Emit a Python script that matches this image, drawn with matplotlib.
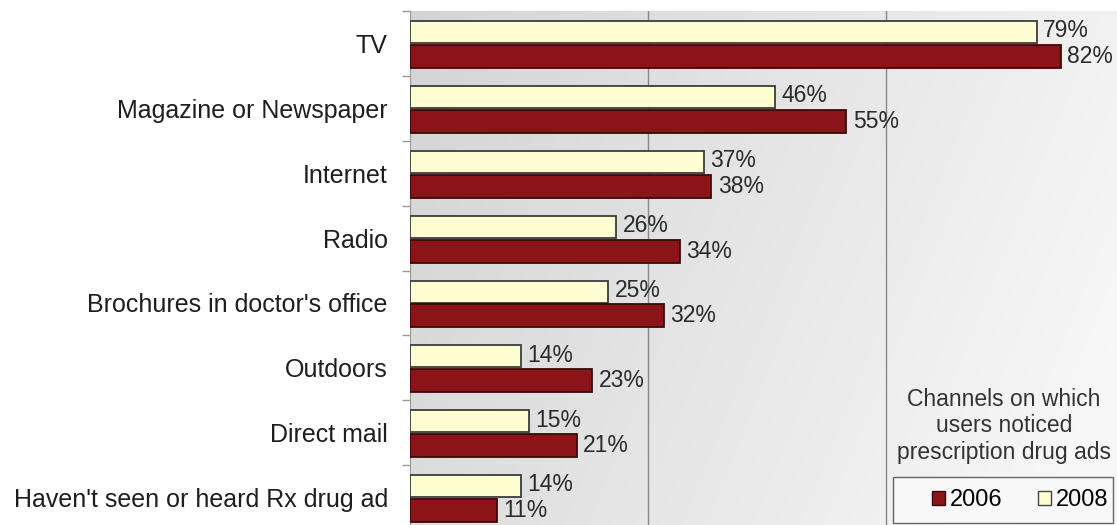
import matplotlib
matplotlib.use("Agg")
import matplotlib.pyplot as plt
import numpy as np
from matplotlib.patches import Patch, Rectangle
from matplotlib.transforms import offset_copy

categories = ["TV", "Magazine or Newspaper", "Internet", "Radio",
              "Brochures in doctor's office", "Outdoors", "Direct mail",
              "Haven't seen or heard Rx drug ad"]
vals_2008 = [79, 46, 37, 26, 25, 14, 15, 14]
vals_2006 = [82, 55, 38, 34, 32, 23, 21, 11]

plt.rcParams['font.family'] = ['Liberation Sans', 'DejaVu Sans']

W, H = 1117, 525
fig = plt.figure(figsize=(W / 100, H / 100), dpi=100)
ax_left, ax_top, ax_bottom, ax_right = 410, 11, 530, 1128
ax = fig.add_axes([ax_left / W, 1 - ax_bottom / H,
                   (ax_right - ax_left) / W, (ax_bottom - ax_top) / H])

n = len(categories)
y = np.arange(n)
h8, h6 = 0.34, 0.355
off8, off6 = -0.175, 0.20

# gradient background
gx = np.linspace(0, 1, 300)
gy = np.linspace(0, 1, 300)
X, Y = np.meshgrid(gx, gy)
G = 0.83 + 0.14 * np.clip(0.85 * X + 0.25 * Y, 0, 1)
ax.imshow(np.dstack([G, G, G]), extent=[0, 1, 0, 1],
          transform=ax.transAxes, aspect='auto', zorder=0, origin='upper')

ax.barh(y + off8, vals_2008, height=h8, color='#FFFFD2',
        edgecolor='#3c3c3c', linewidth=1.3, zorder=3, label='2008')
ax.barh(y + off6, vals_2006, height=h6, color='#8B1419',
        edgecolor='#3a0a0a', linewidth=1.3, zorder=3, label='2006')

tr = offset_copy(ax.transData, fig=fig, x=4.5, y=0, units='points')
for i in range(n):
    ax.text(vals_2008[i], y[i] + off8 - 0.02, f"{vals_2008[i]}%", transform=tr,
            va='center', ha='left', fontsize=16.5, color='#2a2a2a', zorder=4)
    ax.text(vals_2006[i], y[i] + off6, f"{vals_2006[i]}%", transform=tr,
            va='center', ha='left', fontsize=16.5, color='#2a2a2a', zorder=4)

ax.set_xlim(0, 90.5)
ax.set_ylim(n - 0.5, -0.5)
ax.set_xticks([30, 60])
ax.xaxis.grid(True, color='#888888', linewidth=1, zorder=1)
ax.tick_params(axis='x', length=0, labelbottom=False)
ax.set_yticks(y)
ax.set_yticklabels(categories, fontsize=18, color='#1e1e1e')
ax.set_yticks(np.arange(n + 1) - 0.5, minor=True)
ax.tick_params(axis='y', which='major', length=0, pad=16)
ax.tick_params(axis='y', which='minor', length=6, color='#999999', width=1)
for s in ['top', 'right', 'bottom']:
    ax.spines[s].set_visible(False)
ax.spines['left'].set_color('#999999')

fig.text(1004 / W, 1 - 426 / H,
         "Channels on which\nusers noticed\nprescription drug ads",
         ha='center', va='center', fontsize=16.5, color='#333333',
         linespacing=1.17)

# legend frame drawn separately (asymmetric padding as in the reference)
fig.patches.append(Rectangle((893 / W, 1 - 523 / H), 220 / W, 46 / H,
                             transform=fig.transFigure, facecolor='#F8F8F8',
                             edgecolor='#666666', linewidth=1.0, zorder=5))

handles = [Patch(facecolor='#8B1419', edgecolor='#3a0a0a', label='2006'),
           Patch(facecolor='#FFFFD2', edgecolor='#444444', label='2008')]
leg = fig.legend(handles=handles, loc='center', ncol=2,
                 bbox_to_anchor=(1020 / W, 1 - 500 / H),
                 fontsize=17, frameon=False,
                 handlelength=0.55, handleheight=0.55, handletextpad=0.2,
                 columnspacing=1.5, borderpad=0.0, borderaxespad=0)
leg.set_zorder(6)

fig.savefig("out.png", dpi=100)
